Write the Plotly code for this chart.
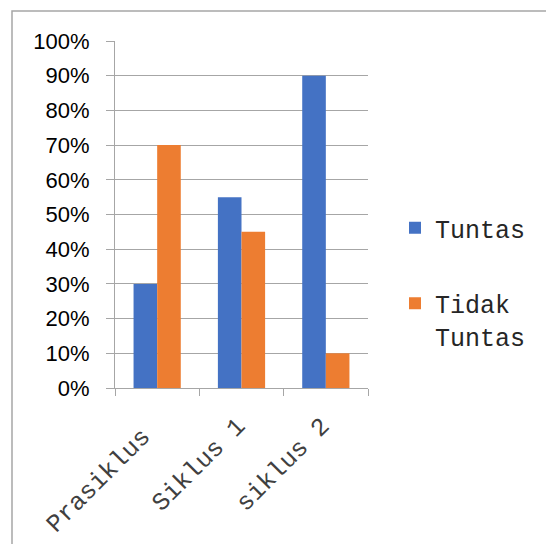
import plotly.graph_objects as go

categories = ["Prasiklus", "Siklus 1", "siklus 2"]
category_labels = ["Prasiklus\u00a0", "Siklus 1", "siklus 2"]
tuntas = [0.30, 0.55, 0.90]
tidak_tuntas = [0.70, 0.45, 0.10]
series_names = ["Tuntas", "Tidak<br>Tuntas"]
y_ticks = [0, 0.1, 0.2, 0.3, 0.4, 0.5, 0.6, 0.7, 0.8, 0.9, 1.0]
y_labels = ["0%", "10%", "20%", "30%", "40%", "50%", "60%", "70%", "80%", "90%", "100%"]

fig = go.Figure()
fig.add_trace(go.Bar(x=categories, y=tuntas, name=series_names[0], legendgroup="a",
                     marker_color="#4472C4", marker_line_width=0))
fig.add_trace(go.Bar(x=categories, y=tidak_tuntas, name=series_names[1], legendgroup="b",
                     marker_color="#ED7D31", marker_line_width=0))

L, R, T, B = 115, 368, 41, 388
W, H = 546, 544
pw, ph = R - L, B - T

def px_x(x):
    return (x - L) / pw

def px_y(y):
    return (B - y) / ph

fig.update_layout(
    width=W, height=H,
    margin=dict(l=L, r=W - R, t=T, b=H - B, autoexpand=False),
    paper_bgcolor="white", plot_bgcolor="white",
    barmode="group", bargap=0.44, bargroupgap=0,
    showlegend=True,
    legend=dict(x=px_x(395), y=px_y(205), xanchor="left", yanchor="top", valign="top",
                font=dict(family="Liberation Mono", size=25, color="#262626"),
                tracegroupgap=40, itemwidth=30, bgcolor="rgba(0,0,0,0)"),
    xaxis=dict(type="category", showgrid=False, showline=True, linecolor="#a6a6a6", linewidth=1,
               ticks="outside", tickson="boundaries", ticklen=7, tickcolor="#a6a6a6",
               tickvals=categories, ticktext=category_labels,
               tickangle=-45, ticklabelstandoff=12, ticklabelshift=-4,
               tickfont=dict(family="Liberation Mono", size=25, color="#404040")),
    yaxis=dict(range=[0, 1.0], tickvals=y_ticks, ticktext=y_labels, showgrid=True,
               gridcolor="#a6a6a6", gridwidth=1, showline=True, linecolor="#a6a6a6",
               ticks="outside", ticklen=8, tickcolor="#a6a6a6", zeroline=False,
               ticklabelstandoff=12,
               tickfont=dict(family="Liberation Sans", size=22, color="#000000")),
    shapes=[dict(type="rect", xref="paper", yref="paper",
                 x0=px_x(12), x1=px_x(560), y0=px_y(560), y1=px_y(11),
                 line=dict(color="#a6a6a6", width=1.5), fillcolor="rgba(0,0,0,0)", layer="below")],
)

fig.write_html("out.html", config={"displayModeBar": False},
               post_script="document.body.style.margin='0';document.documentElement.style.overflow='hidden';")
